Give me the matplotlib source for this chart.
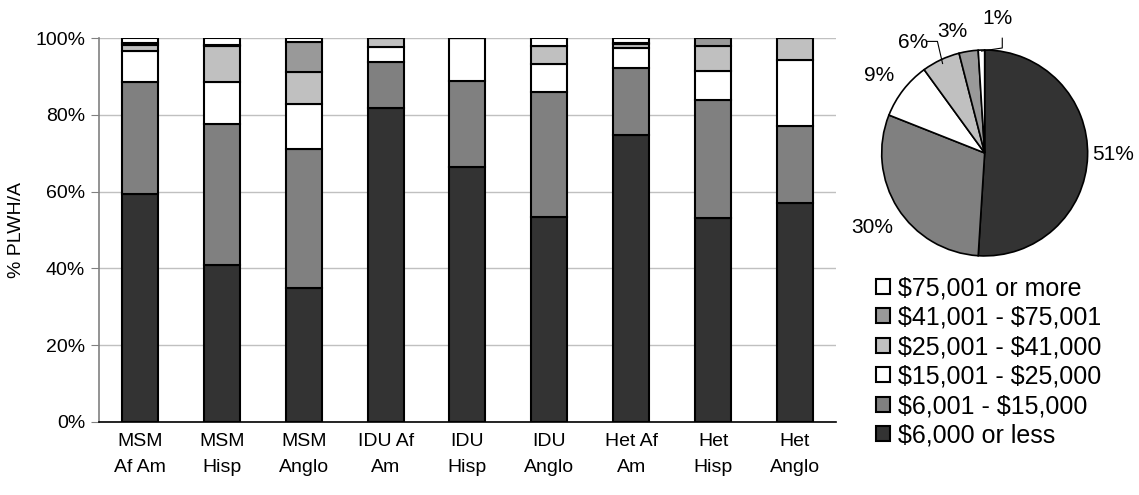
import matplotlib.pyplot as plt
import numpy as np

plt.rcParams['font.family'] = ['Liberation Sans', 'DejaVu Sans']

groups = ['MSM\nAf Am', 'MSM\nHisp', 'MSM\nAnglo', 'IDU Af\nAm', 'IDU\nHisp',
          'IDU\nAnglo', 'Het Af\nAm', 'Het\nHisp', 'Het\nAnglo']

# income bands, bottom of the stack first (percent of PLWH/A)
le_6000 = [59.5, 41.0, 35.0, 81.7, 66.3, 53.5, 74.8, 53.0, 57.0]
r6_15 = [29.0, 36.5, 36.0, 12.0, 22.5, 32.5, 17.3, 30.9, 20.1]
r15_25 = [8.0, 11.0, 11.8, 4.0, 11.2, 7.2, 5.2, 7.6, 17.2]
r25_41 = [1.8, 9.4, 8.4, 2.3, 0.0, 4.7, 1.2, 6.4, 5.7]
r41_75 = [0.4, 0.3, 7.7, 0.0, 0.0, 0.0, 0.2, 2.1, 0.0]
ge_75 = [1.3, 1.8, 1.1, 0.0, 0.0, 2.1, 1.3, 0.0, 0.0]

band_labels = ['$6,000 or less', '$6,001 - $15,000', '$15,001 - $25,000',
               '$25,001 - $41,000', '$41,001 - $75,001', '$75,001 or more']
band_colors = ['#333333', '#808080', '#ffffff', '#c0c0c0', '#999999', '#ffffff']

# overall distribution for the pie (same band order)
overall = [51, 30, 9, 6, 3, 1]

fig = plt.figure(figsize=(11.39, 4.95), dpi=100)
ax = fig.add_axes([0.0869, 0.1475, 0.647, 0.7757])

series = [le_6000, r6_15, r15_25, r25_41, r41_75, ge_75]
x = np.arange(len(groups))
bottom = np.zeros(len(groups))
handles = []
for vals, lab, col in zip(series, band_labels, band_colors):
    vals = np.array(vals)
    b = ax.bar(x, vals, 0.44, bottom=bottom, color=col, edgecolor='black',
               linewidth=1.5, zorder=3)
    handles.append(b)
    bottom += vals

ax.set_xlim(-0.5, len(groups) - 0.5)
ax.set_ylim(0, 100)
ax.set_yticks(np.arange(0, 101, 20))
ax.set_yticklabels([f'{v}%' for v in range(0, 101, 20)])
ax.set_xticks(x)
ax.set_xticklabels(groups, linespacing=1.7)
ax.tick_params(axis='x', length=0, labelsize=14, pad=8)
ax.tick_params(axis='y', length=6, labelsize=14, color='#808080', pad=4)
ax.yaxis.grid(True, color='#c0c0c0', linewidth=1, zorder=0)
ax.set_ylabel('% PLWH/A', fontsize=14)
ax.yaxis.set_label_coords(-0.1, 0.5)
for s in ['top', 'right']:
    ax.spines[s].set_visible(False)
ax.spines['left'].set_color('#808080')
ax.spines['left'].set_linewidth(1.2)
ax.spines['bottom'].set_color('black')
ax.spines['bottom'].set_linewidth(1.2)

# pie
pax = fig.add_axes([0.774, 0.483, 0.181, 0.416])
wedges, _ = pax.pie(overall, colors=band_colors, startangle=90, counterclock=False,
                    wedgeprops=dict(edgecolor='black', linewidth=1.2))
pax.set_xlim(-1, 1)
pax.set_ylim(-1, 1)
pax.set_aspect('equal')

lab_r = [1.25, 1.31, 1.27, 1.28, 1.22, 1.31]
lab_shift = [1.3, 1.0, 1.5, 7.8, 5.7, -7.1]  # degrees away from wedge middle
for w, v, r, sh in zip(wedges, overall, lab_r, lab_shift):
    mid = (w.theta1 + w.theta2) / 2
    th = np.deg2rad(mid + sh)
    tx, ty = r * np.cos(th), r * np.sin(th)
    pax.text(tx, ty, f'{v}%', ha='center', va='center', fontsize=15, clip_on=False)
    m = np.deg2rad(mid)
    ex, ey = 0.96 * np.cos(m), 0.96 * np.sin(m)
    if v == 6:
        kx, ky = ex - 0.05, ty + 0.01
        pax.plot([ex, kx, tx + 0.14], [ey, ky, ky], color='black', lw=0.8, clip_on=False)
    elif v == 1:
        kx = tx + 0.05
        pax.plot([ex, kx, kx], [ey + 0.03, ey + 0.06, ty - 0.19], color='black', lw=0.8, clip_on=False)

fig.legend(handles[::-1], [l.replace('$', r'\$') for l in band_labels[::-1]],
           loc='upper left', bbox_to_anchor=(0.769, 0.442), frameon=False, fontsize=18,
           borderpad=0, borderaxespad=0, handlelength=0.55, handleheight=0.55,
           handletextpad=0.35, labelspacing=0.22)

fig.savefig('out.png', dpi=100)
